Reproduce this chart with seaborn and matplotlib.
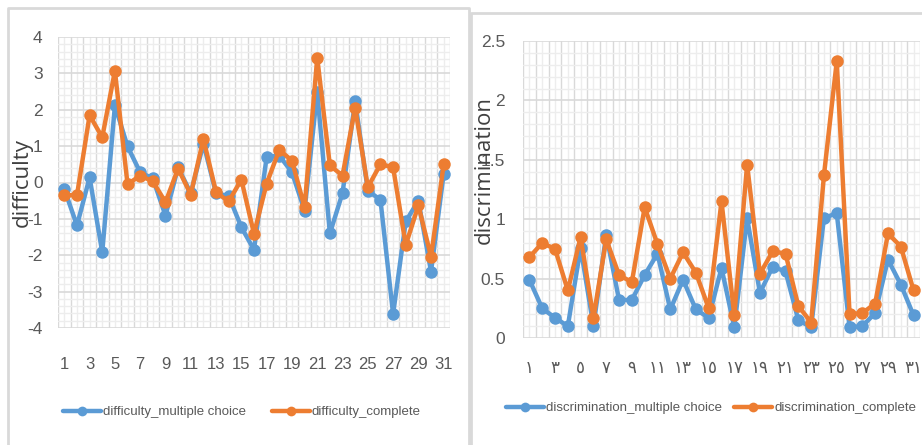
import numpy as np
import pandas as pd
import matplotlib
matplotlib.use("Agg")
import matplotlib.pyplot as plt
from matplotlib.lines import Line2D
from matplotlib.ticker import MultipleLocator
import seaborn as sns

# ---- data -------------------------------------------------------------
items = [1, 2, 3, 4, 5, 6, 7, 8, 9, 10, 11, 12, 13, 14, 15, 16,
         17, 18, 19, 20, 21, 22, 23, 24, 25, 26, 27, 28, 29, 30, 31]

difficulty_mc = [-0.18, -1.18, 0.14, -1.92, 2.12, 0.99, 0.28, 0.11, -0.91, 0.42,
                 -0.30, 1.07, -0.30, -0.37, -1.23, -1.85, 0.70, 0.74, 0.28, -0.77,
                 2.49, -1.40, -0.29, 2.24, -0.22, -0.48, -3.62, -1.07, -0.50, -2.45,
                 0.24]
difficulty_complete = [-0.35, -0.35, 1.85, 1.24, 3.07, -0.05, 0.19, 0.03, -0.54, 0.38,
                       -0.33, 1.20, -0.27, -0.52, 0.08, -1.41, -0.03, 0.90, 0.60, -0.68,
                       3.43, 0.47, 0.19, 2.06, -0.13, 0.50, 0.42, -1.72, -0.63, -2.04,
                       0.50]

discrimination_mc = [0.49, 0.25, 0.17, 0.10, 0.76, 0.10, 0.87, 0.32, 0.32, 0.53,
                     0.71, 0.24, 0.49, 0.24, 0.17, 0.59, 0.09, 1.01, 0.38, 0.60,
                     0.56, 0.15, 0.09, 1.01, 1.05, 0.09, 0.10, 0.21, 0.66, 0.45,
                     0.19]
discrimination_complete = [0.68, 0.80, 0.75, 0.40, 0.85, 0.17, 0.83, 0.53, 0.47, 1.10,
                           0.79, 0.50, 0.72, 0.55, 0.25, 1.15, 0.19, 1.46, 0.54, 0.73,
                           0.71, 0.27, 0.13, 1.37, 2.33, 0.20, 0.21, 0.29, 0.88, 0.77,
                           0.40]

left_tick_pos = [1, 3, 5, 7, 9, 11, 13, 15, 17, 19, 21, 23, 25, 27, 29, 31]
left_tick_labels = ["1", "3", "5", "7", "9", "11", "13", "15", "17", "19",
                    "21", "23", "25", "27", "29", "31"]
right_tick_labels = ["١", "٣", "٥", "٧", "٩", "١١", "١٣", "١٥", "١٧", "١٩",
                     "٢١", "٢٣", "٢٥", "٢٧", "٢٩", "٣١"]

difficulty_names = ["difficulty_multiple choice", "difficulty_complete"]
discrimination_names = ["discrimination_multiple choice", "discrimination_complete"]

# ---- style ------------------------------------------------------------
sns.set_theme(style="white")
plt.rcParams["font.family"] = ["Liberation Sans", "DejaVu Sans"]

BLUE = "#5B9BD5"
ORANGE = "#ED7D31"
GRID_MAJOR = "#D9D9D9"
GRID_MINOR = "#EDEDED"
TICK_COLOR = "#595959"
LABEL_COLOR = "#404040"

W, H = 922, 445
fig = plt.figure(figsize=(W / 100, H / 100), dpi=100)
fig.patch.set_facecolor("white")


def px_axes(x0, y0, x1, y1):
    """Axes placed by pixel box (top-left origin)."""
    return fig.add_axes([x0 / W, 1 - y1 / H, (x1 - x0) / W, (y1 - y0) / H])


def px_line(xs, ys, **kw):
    fig.add_artist(Line2D([x / W for x in xs], [1 - y / H for y in ys],
                          transform=fig.transFigure, **kw))


def draw_panel(ax, mc, comp, names, ylim, major, minor):
    df = pd.DataFrame({
        "item": items + items,
        "value": mc + comp,
        "series": [names[0]] * len(items) + [names[1]] * len(items),
    })
    sns.lineplot(data=df, x="item", y="value", hue="series",
                 palette=[BLUE, ORANGE], marker="o", markersize=9,
                 markeredgewidth=0, linewidth=3.2, sort=False,
                 legend=False, ax=ax, zorder=3)
    ax.set_xlim(0.5, 31.5)
    ax.set_ylim(*ylim)
    ax.set_xlabel("")
    ax.set_ylabel("")

    # gridlines: category boundaries strong, centres faint
    ax.set_xticks(np.arange(0.5, 31.6, 1.0), minor=True)
    ax.grid(False)
    ax.grid(axis="x", which="minor", color=GRID_MAJOR, linewidth=1.0)
    ax.vlines(items, ylim[0], ylim[1], color=GRID_MINOR, linewidth=1.0, zorder=0.5)
    ax.yaxis.set_major_locator(MultipleLocator(major))
    ax.yaxis.set_minor_locator(MultipleLocator(minor))
    ax.grid(axis="y", which="minor", color=GRID_MINOR, linewidth=1.0)
    ax.grid(axis="y", which="major", color=GRID_MAJOR, linewidth=1.2)
    ax.set_axisbelow(True)
    for s in ax.spines.values():
        s.set_visible(False)
    ax.tick_params(which="both", length=0, colors=TICK_COLOR)


# ---- panel frames -----------------------------------------------------
px_line([8, 8, 469, 469], [450, 8, 8, 450], color=GRID_MAJOR, linewidth=2)
px_line([471, 471, 930], [450, 13, 13], color=GRID_MAJOR, linewidth=2)

# ---- left: difficulty -------------------------------------------------
ax1 = px_axes(58, 37, 450, 328)
draw_panel(ax1, difficulty_mc, difficulty_complete, difficulty_names,
           (-4, 4), 1, 0.2)
ax1.set_xticks(left_tick_pos)
ax1.set_xticklabels(left_tick_labels, fontsize=12)
ax1.set_yticks([-4, -3, -2, -1, 0, 1, 2, 3, 4])
ax1.set_yticklabels(["-4", "-3", "-2", "-1", "0", "1", "2", "3", "4"], fontsize=12.5)
ax1.tick_params(axis="x", pad=21)
ax1.tick_params(axis="y", pad=11)
fig.text(22 / W, 1 - 183 / H, "difficulty", rotation=90, ha="center", va="center",
         fontsize=16, color=LABEL_COLOR, family=["Open Sans", "DejaVu Sans"])

# ---- right: discrimination --------------------------------------------
ax2 = px_axes(523, 41, 920, 338)
draw_panel(ax2, discrimination_mc, discrimination_complete, discrimination_names,
           (0, 2.5), 0.5, 0.1)
ax2.set_xticks(left_tick_pos)
ax2.set_xticklabels(right_tick_labels, fontsize=12, family=["DejaVu Sans"])
ax2.set_yticks([0, 0.5, 1, 1.5, 2, 2.5])
ax2.set_yticklabels(["0", "0.5", "1", "1.5", "2", "2.5"], fontsize=12.5)
ax2.tick_params(axis="x", pad=15)
ax2.tick_params(axis="y", pad=13)
fig.text(484 / W, 1 - 170 / H, "discrimination", rotation=90, ha="center",
         va="center", fontsize=16, color=LABEL_COLOR,
         family=["Open Sans", "DejaVu Sans"])


# ---- legends ----------------------------------------------------------
def legend_handles():
    return [Line2D([], [], color=c, linewidth=3.2, marker="o", markersize=7,
                   markeredgewidth=0) for c in (BLUE, ORANGE)]


leg_kw = dict(loc="center", ncol=2, frameon=False, fontsize=9.5,
              handlelength=2.9, handletextpad=0.15, labelcolor=TICK_COLOR)
fig.legend(legend_handles(), difficulty_names,
           bbox_to_anchor=(242 / W, 1 - 412 / H), columnspacing=1.9, **leg_kw)
fig.legend(legend_handles(), discrimination_names,
           bbox_to_anchor=(711 / W, 1 - 408 / H), columnspacing=0.9, **leg_kw)

fig.savefig("out.png", dpi=100, facecolor="white")
